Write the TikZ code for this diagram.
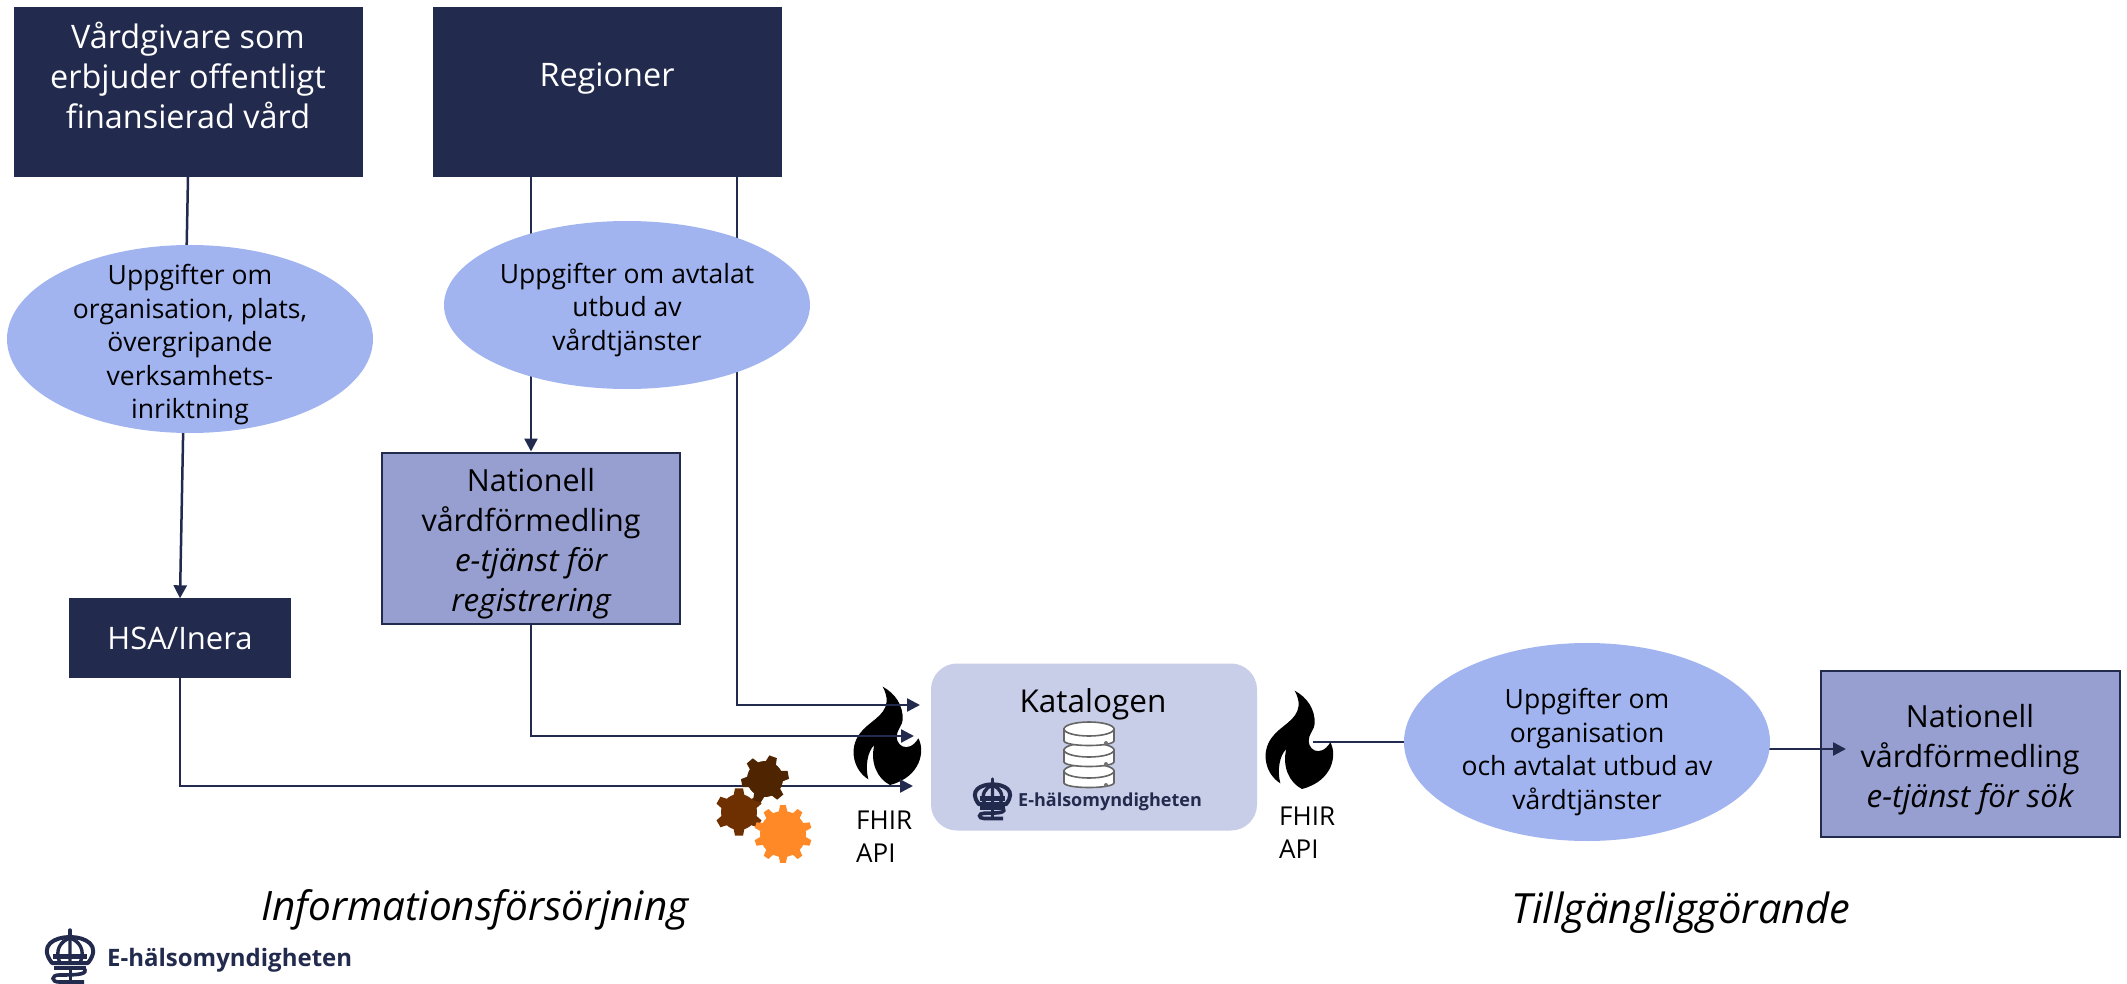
\documentclass[tikz,border=0pt]{standalone}
\usepackage{fontspec}
\setmainfont{Open Sans}
\usetikzlibrary{arrows.meta,shapes.geometric}
\definecolor{navy}{HTML}{222A4D}
\definecolor{ovalblue}{HTML}{A1B4EF}
\definecolor{boxblue}{HTML}{969FCF}
\definecolor{katablue}{HTML}{C8CDE8}
\definecolor{geardark}{HTML}{4E2500}
\definecolor{gearmid}{HTML}{6E3000}
\definecolor{gearorange}{HTML}{FF8926}
\newcommand{\italline}[1]{{\fontsize{31.5}{40}\selectfont\itshape #1}}
\newcommand{\topgap}{\rule{0pt}{34pt}}
\tikzset{
  darkbox/.style={draw=navy,fill=navy,text=white,align=center,minimum width=348pt,minimum height=169pt,text depth=34pt,font=\fontsize{32.4}{40}\selectfont},
  bluebox/.style={draw=navy,line width=2pt,fill=boxblue,text=black,align=center,font=\fontsize{30.5}{40}\selectfont},
  oval/.style={ellipse,fill=ovalblue,inner sep=0pt,minimum width=366pt},
  ovaltext/.style={align=center,inner sep=0pt,text=black,font=\fontsize{26.5}{33.5}\selectfont},
  flow/.style={draw=navy,line width=2.5pt,-{Triangle[length=13pt,width=13pt]}},
  plainflow/.style={draw=navy,line width=2.5pt},
  apilabel/.style={align=left,inner sep=0pt,font=\fontsize{26}{33}\selectfont},
  headline/.style={inner sep=0pt,font=\fontsize{40.5}{48}\selectfont\itshape},
  pics/flame/.style={code={
    \fill[black,scale=0.3333] (128,50) .. controls (165,70) and (190,105) .. (188,150)
      .. controls (186,165) and (178,172) .. (172,188) .. controls (160,225) and (205,255) .. (235,205)
      .. controls (255,240) and (245,320) .. (150,345) .. controls (110,325) and (90,275) .. (103,225)
      .. controls (82,245) and (75,290) .. (85,328) .. controls (40,300) and (25,235) .. (60,190)
      .. controls (85,155) and (135,140) .. (140,95) .. controls (141,80) and (135,62) .. (128,50) -- cycle;
  }},
  pics/crownmark/.style={code={
    \draw[navy,line width=3.4pt,line cap=round] (23,0) -- (23,8);
    \draw[navy,line width=4pt,line join=round] (5,33) .. controls (-9,15) and (8,7) .. (23,7) .. controls (38,7) and (55,15) .. (41,33) -- cycle;
    \draw[navy,line width=3.4pt] (23,8) -- (23,33) (13,33) .. controls (7,20) and (14,11) .. (23,8) (33,33) .. controls (39,20) and (32,11) .. (23,8);
    \draw[navy,line width=5pt] (6,26) -- (40,26);
    \draw[navy,line width=4pt] (7,38) -- (39,38);
    \draw[navy,line width=3.6pt] (37,38) .. controls (41,44) and (34,45) .. (12,45) .. controls (4,45) and (4,52) .. (12,52) -- (37,52);
    \draw[navy,line width=3pt] (23,40) -- (23,53);
  }},
  pics/dbicon/.style={code={
    \foreach \tier in {42,21,0} {
      \draw[draw=black!60,fill=white,line width=1.6pt] (0,7+\tier) -- (0,19+\tier) .. controls (2,25+\tier) and (48,25+\tier) .. (50,19+\tier) -- (50,7+\tier) -- cycle;
      \draw[draw=black!60,fill=white,line width=1.6pt] (25,7+\tier) ellipse (25pt and 7pt);
      \fill[black!55] (42,\tier+21) circle (2pt);
    }
  }}
}
% gear: centre x, centre y, inner radius, outer radius, teeth, turn, colour
\newcommand{\gearwheel}[7]{
  \pgfmathsetmacro{\gearstep}{360/#5}
  \fill[#7] (#1,#2) circle (#3pt);
  \foreach \tooth in {1,...,#5} {
    \pgfmathsetmacro{\toothangle}{#6+\tooth*\gearstep}
    \fill[#7] ({#1+(#3-1)*cos(\toothangle-0.32*\gearstep)},{#2+(#3-1)*sin(\toothangle-0.32*\gearstep)})
      -- ({#1+#4*cos(\toothangle-0.16*\gearstep)},{#2+#4*sin(\toothangle-0.16*\gearstep)})
      -- ({#1+#4*cos(\toothangle+0.16*\gearstep)},{#2+#4*sin(\toothangle+0.16*\gearstep)})
      -- ({#1+(#3-1)*cos(\toothangle+0.32*\gearstep)},{#2+(#3-1)*sin(\toothangle+0.32*\gearstep)}) -- cycle;
  }
}
\begin{document}
\begin{tikzpicture}[x=1pt,y=-1pt]
\useasboundingbox (0,0) rectangle (2127,984);
% Drawing flames
\pic at (840,670) {flame};
\pic at (1252,674) {flame};
% Drawing boxes
\node[darkbox] (vardgivare) at (188,92) {Vårdgivare som\\erbjuder offentligt\\finansierad vård};
\node[darkbox] (regioner) at (607,92) {Regioner};
\node[draw=navy,fill=navy,text=white,minimum width=221pt,minimum height=79pt,font=\fontsize{31}{36}\selectfont] (hsa) at (180,638) {HSA/Inera};
\node[bluebox,minimum width=298pt,minimum height=171pt] (nationellreg) at (531,538) {\topgap Nationell\\vårdförmedling\\\italline{e-tjänst för}\\\italline{registrering}};
\node[fill=katablue,rounded corners=26pt,minimum width=326pt,minimum height=167pt] (katalogen) at (1094,747) {};
\node[font=\fontsize{31.5}{36}\selectfont,inner sep=0pt] (katalogtext) at (1093,704) {Katalogen};
\pic at (1064,722) {dbicon};
\pic[scale=0.76] at (975,779) {crownmark};
\node[anchor=west,inner sep=0pt,text=navy,font=\fontsize{18}{22}\selectfont\bfseries] (kataloglogo) at (1018,802) {E-hälsomyndigheten};
\node[bluebox,minimum width=299pt,minimum height=166pt] (nationellsok) at (1970,754) {\topgap Nationell\\vårdförmedling\\\italline{e-tjänst för sök}};
% Drawing connectors
\coordinate (regionerut) at (737,176);
\coordinate (kataloginA) at (920,705);
\coordinate (kataloginB) at (914,736);
\coordinate (kataloginC) at (913,786);
\coordinate (flamut) at (1313,742);
\coordinate (ovalut) at (1768,749);
\coordinate (sokin) at (1846,749);
\draw[flow] (vardgivare.south) -- (hsa.north);
\draw[flow] (nationellreg.north |- regioner.south) -- (nationellreg.north);
\draw[flow] (regionerut) |- (kataloginA);
\draw[flow] (nationellreg.south) |- (kataloginB);
\draw[flow] (hsa.south) |- (kataloginC);
\draw[plainflow] (flamut) -- (1410,742);
\draw[flow] (ovalut) -- (sokin);
% Drawing gears
\gearwheel{739}{812}{18}{24}{6}{-90}{gearmid}
\gearwheel{765}{779}{18}{24}{6}{-70}{geardark}
\gearwheel{783}{834}{23}{29}{10}{-90}{gearorange}
% Drawing ovals
\node[oval,minimum height=188pt] (ovalorg) at (190,339) {};
\node[ovaltext] (ovalorgtext) at (190,345) {Uppgifter om\\organisation, plats,\\övergripande\\verksamhets-\\inriktning};
\node[oval,minimum height=168pt] (ovalutbud) at (627,305) {};
\node[ovaltext] (ovalutbudtext) at (627,310) {Uppgifter om avtalat\\utbud av\\vårdtjänster};
\node[oval,minimum height=198pt] (ovalkatalog) at (1587,742) {};
\node[ovaltext] (ovalkatalogtext) at (1587,752) {Uppgifter om\\organisation\\och avtalat utbud av\\vårdtjänster};
% Drawing labels
\node[apilabel,anchor=west] (apivanster) at (856,837) {FHIR\\API};
\node[apilabel,anchor=west] (apihoger) at (1279,833) {FHIR\\API};
\node[headline] (rubrikinfo) at (475,910) {Informationsförsörjning};
\node[headline,font=\fontsize{41.6}{48}\selectfont\itshape] (rubriktillg) at (1681,913) {Tillgängliggörande};
\pic at (47,930) {crownmark};
\node[anchor=west,inner sep=0pt,text=navy,font=\fontsize{24}{28}\selectfont\bfseries] (logotext) at (107,960) {E-hälsomyndigheten};
\end{tikzpicture}
\end{document}
